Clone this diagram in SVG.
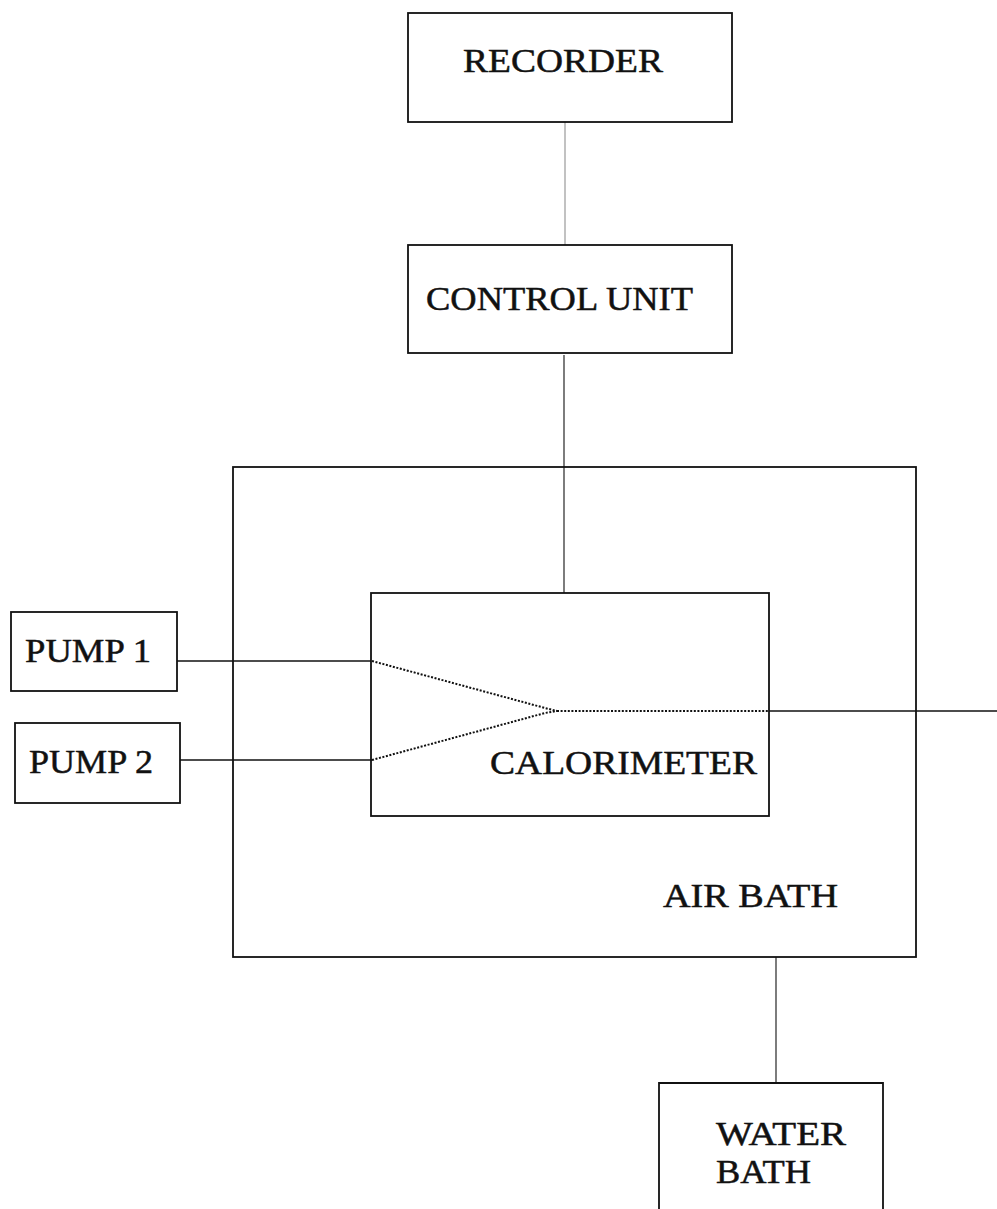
<svg xmlns="http://www.w3.org/2000/svg" width="997" height="1209" viewBox="0 0 997 1209">
<style>
.box{fill:none;stroke:#111;stroke-width:1.8}
.lbl{font-family:"Liberation Serif","Times New Roman",serif;fill:#111;stroke:#111;stroke-width:0.5;font-size:34px}
.wire{stroke:#111;stroke-width:1.6;fill:none}
.thin{stroke:#111;stroke-width:1.1;fill:none}
.grey{stroke:#999;stroke-width:1.2;fill:none}
.dot{stroke:#111;stroke-width:2;stroke-dasharray:2 1.6;fill:none}
</style>
<rect width="997" height="1209" fill="#fff"/>
<g id="connectors">
<line class="grey" x1="565" y1="122" x2="565" y2="245"/>
<line class="thin" x1="564" y1="355" x2="564" y2="593"/>
<line class="wire" x1="177" y1="661" x2="371" y2="661"/>
<line class="wire" x1="180" y1="760" x2="372" y2="760"/>
<polyline class="dot" points="372,661 545,708 557,711"/>
<polyline class="dot" points="372,760 545,713 557,711"/>
<line class="dot" x1="557" y1="711" x2="769" y2="711"/>
<line class="wire" x1="769" y1="711" x2="997" y2="711"/>
<line class="thin" x1="776" y1="957" x2="776" y2="1083"/>
</g>
<g id="recorder">
<rect class="box" x="408" y="13" width="324" height="109"/>
<text class="lbl" x="463" y="72" textLength="200" lengthAdjust="spacingAndGlyphs">RECORDER</text>
</g>
<g id="control-unit">
<rect class="box" x="408" y="245" width="324" height="108"/>
<text class="lbl" x="426" y="310" textLength="267" lengthAdjust="spacingAndGlyphs">CONTROL UNIT</text>
</g>
<g id="air-bath">
<rect class="box" x="233" y="467" width="683" height="490"/>
<text class="lbl" x="663" y="907" textLength="175" lengthAdjust="spacingAndGlyphs">AIR BATH</text>
</g>
<g id="calorimeter">
<rect class="box" x="371" y="593" width="398" height="223"/>
<text class="lbl" x="490" y="774" textLength="267" lengthAdjust="spacingAndGlyphs">CALORIMETER</text>
</g>
<g id="pump1">
<rect class="box" x="11" y="612" width="166" height="79"/>
<text class="lbl" x="25" y="662" font-size="31" textLength="126" lengthAdjust="spacingAndGlyphs">PUMP 1</text>
</g>
<g id="pump2">
<rect class="box" x="15" y="723" width="165" height="80"/>
<text class="lbl" x="29" y="773" font-size="31" textLength="124" lengthAdjust="spacingAndGlyphs">PUMP 2</text>
</g>
<g id="water-bath">
<path class="box" d="M659,1215 V1083 H883 V1215"/>
<text class="lbl" x="716" y="1145" textLength="130" lengthAdjust="spacingAndGlyphs">WATER</text>
<text class="lbl" x="716" y="1183" textLength="95" lengthAdjust="spacingAndGlyphs">BATH</text>
</g>
</svg>
